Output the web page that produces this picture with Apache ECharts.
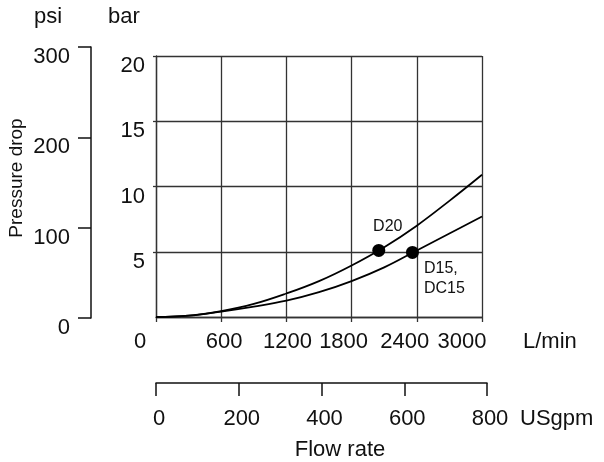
<!DOCTYPE html>
<html>
<head>
<meta charset="utf-8">
<script src="https://cdn.jsdelivr.net/npm/echarts@6/dist/echarts.min.js"></script>
<style>html,body{margin:0;padding:0;background:#fff}#c{width:604px;height:462px}</style>
</head>
<body>
<div id="c"></div>
<script>
// ---- data ----
var flowLmin = [0, 300, 600, 900, 1200, 1500, 1800, 2100, 2400, 2700, 3000];
var d20Bar   = [0, 0.1, 0.45, 1.0, 1.8, 2.75, 3.95, 5.35, 7.0, 8.9, 10.9];
var d15Bar   = [0, 0.1, 0.42, 0.8, 1.25, 1.9, 2.75, 3.8, 5.1, 6.4, 7.7];
var d20Point = [2050, 5.1];
var d15Point = [2360, 4.95];
var d20Name = 'D20';
var d15Name = 'D15,\nDC15';
var lminTicks = [0, 600, 1200, 1800, 2400, 3000];
var barTicks = [0, 5, 10, 15, 20];
var psiTicks = [0, 100, 200, 300];
var gpmTicks = [0, 200, 400, 600, 800];

var FONT = 'Liberation Sans, Arial, Helvetica, sans-serif';
var FS = 22;
var INK = '#111';
var GRIDC = '#333';

function pairs(xs, ys) { return xs.map(function (x, i) { return [x, ys[i]]; }); }

// per-label horizontal shifts (styling only)
var lminShift = {0: -16, 600: 3, 1200: 1, 1800: -8, 2400: -12, 3000: -20};
var rich = {};
lminTicks.forEach(function (v) {
  var s = lminShift[v] || 0;
  rich['s' + v] = {fontFamily: FONT, fontSize: FS, color: INK,
    padding: s >= 0 ? [0, 0, 0, 2 * s] : [0, -2 * s, 0, 0]};
});

var chart = echarts.init(document.getElementById('c'), null, {renderer: 'canvas'});
chart.setOption({
  animation: false,
  backgroundColor: '#fff',
  textStyle: {fontFamily: FONT},
  grid: [
    {left: 156, right: 122, top: 56, bottom: 145},
    {left: 91, width: 1, top: 47, bottom: 144},
    {left: 156, right: 117, top: 382, bottom: 79}
  ],
  xAxis: [
    {
      gridIndex: 0, type: 'value', min: lminTicks[0], max: lminTicks[lminTicks.length - 1], interval: 600,
      name: 'L/min', nameLocation: 'end', nameGap: 41,
      nameTextStyle: {fontFamily: FONT, fontSize: FS, color: INK, align: 'left', verticalAlign: 'top', padding: [14, 0, 0, 0]},
      axisLine: {show: true, lineStyle: {color: GRIDC, width: 1.3}},
      axisTick: {show: true, length: 5, lineStyle: {color: GRIDC, width: 1.3}},
      splitLine: {show: true, lineStyle: {color: GRIDC, width: 1.3}},
      axisLabel: {margin: 14, fontFamily: FONT, fontSize: FS, color: INK, rich: rich,
        showMinLabel: true, showMaxLabel: true,
        formatter: function (v) { return '{s' + v + '|' + v + '}'; }}
    },
    {gridIndex: 1, type: 'value', show: false, min: 0, max: 1},
    {
      gridIndex: 2, type: 'value', min: gpmTicks[0], max: gpmTicks[gpmTicks.length - 1], interval: 200,
      name: 'USgpm', nameLocation: 'end', nameGap: 33,
      nameTextStyle: {fontFamily: FONT, fontSize: FS, color: INK, align: 'left', verticalAlign: 'top', padding: [25, 0, 0, 0]},
      axisLine: {show: true, lineStyle: {color: INK, width: 1.5}},
      axisTick: {show: true, length: 13, lineStyle: {color: INK, width: 1.5}},
      splitLine: {show: false},
      axisLabel: {margin: 25, fontFamily: FONT, fontSize: FS, color: INK, padding: [0, 0, 0, 6]}
    }
  ],
  yAxis: [
    {
      gridIndex: 0, type: 'value', min: barTicks[0], max: barTicks[barTicks.length - 1], interval: 5,
      name: 'bar', nameLocation: 'end', nameGap: 28,
      nameTextStyle: {fontFamily: FONT, fontSize: FS, color: INK, align: 'center', padding: [0, 64, 0, 0]},
      axisLine: {show: true, lineStyle: {color: GRIDC, width: 1.3}},
      axisTick: {show: true, length: 3, lineStyle: {color: GRIDC, width: 1.3}},
      splitLine: {show: true, lineStyle: {color: GRIDC, width: 1.3}},
      axisLabel: {margin: 11, fontFamily: FONT, fontSize: FS, color: INK, verticalAlign: 'top',
        lineHeight: 20, showMinLabel: false}
    },
    {
      gridIndex: 1, type: 'value', min: psiTicks[0], max: psiTicks[psiTicks.length - 1], interval: 100,
      name: 'psi', nameLocation: 'end', nameGap: 19,
      nameTextStyle: {fontFamily: FONT, fontSize: FS, color: INK, align: 'center', padding: [0, 86, 0, 0]},
      axisLine: {show: true, lineStyle: {color: INK, width: 1.5}},
      axisTick: {show: true, length: 13, lineStyle: {color: INK, width: 1.5}},
      splitLine: {show: false},
      axisLabel: {margin: 21, fontFamily: FONT, fontSize: FS, color: INK, verticalAlign: 'top',
        lineHeight: 20}
    },
    {gridIndex: 2, type: 'value', show: false, min: 0, max: 1}
  ],
  graphic: [
    {type: 'text', x: 17, y: 178, rotation: Math.PI / 2,
      style: {text: 'Pressure drop', fontFamily: FONT, fontSize: 19, fill: INK, align: 'center', verticalAlign: 'middle'}},
    {type: 'text', x: 340, y: 450,
      style: {text: 'Flow rate', fontFamily: FONT, fontSize: FS, fill: INK, align: 'center', verticalAlign: 'middle'}}
  ],
  series: [
    {type: 'line', xAxisIndex: 0, yAxisIndex: 0, data: pairs(flowLmin, d20Bar), smooth: 0.4, showSymbol: false,
      lineStyle: {color: '#000', width: 1.8}, z: 5},
    {type: 'line', xAxisIndex: 0, yAxisIndex: 0, data: pairs(flowLmin, d15Bar), smooth: 0.4, showSymbol: false,
      lineStyle: {color: '#000', width: 1.8}, z: 5},
    {type: 'scatter', xAxisIndex: 0, yAxisIndex: 0, data: [d20Point], symbolSize: 13,
      itemStyle: {color: '#000', opacity: 1}, z: 6,
      label: {show: true, formatter: d20Name, position: 'top', distance: 9, offset: [9, 0],
        fontFamily: FONT, fontSize: 16, color: INK}},
    {type: 'scatter', xAxisIndex: 0, yAxisIndex: 0, data: [d15Point], symbolSize: 13,
      itemStyle: {color: '#000', opacity: 1}, z: 6,
      label: {show: true, formatter: d15Name, position: [18, 13], align: 'left', verticalAlign: 'top',
        lineHeight: 20, fontFamily: FONT, fontSize: 16, color: INK}}
  ]
});
</script>
</body>
</html>
